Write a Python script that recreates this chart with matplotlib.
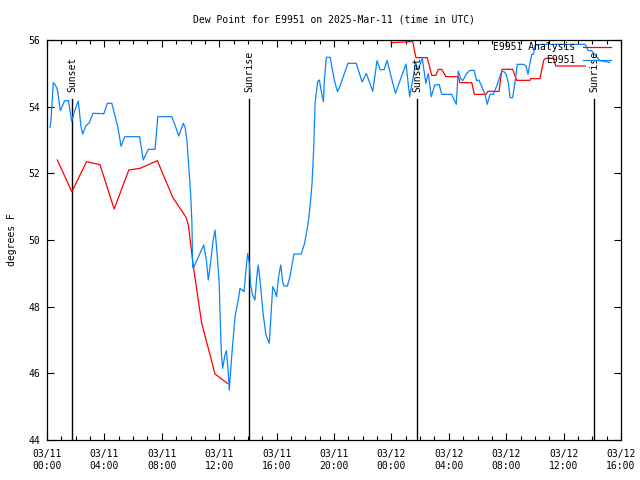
import matplotlib
matplotlib.use("Agg")
import matplotlib.pyplot as plt
from matplotlib.ticker import MultipleLocator

# ---- data (hours since 03/11 00:00 UTC) ----
obs_hours = [0.21, 0.28, 0.44, 0.58, 0.72, 0.93, 1.23, 1.5, 1.72, 1.9, 2.18, 2.37, 2.49, 2.7, 2.95,
             3.2, 3.96, 4.21, 4.52, 4.93, 5.16, 5.42, 6.45, 6.71, 7.06, 7.53, 7.72, 8.69, 8.92, 9.18,
             9.5, 9.62, 9.75, 9.85, 10.01, 10.1, 10.15, 10.2, 10.92, 11.1, 11.24, 11.4, 11.58, 11.71,
             11.85, 12.0, 12.08, 12.15, 12.24, 12.4, 12.5, 12.62, 12.7, 12.87, 13.1, 13.33, 13.45,
             13.73, 13.92, 13.99, 14.1, 14.19, 14.33, 14.49, 14.61, 14.72, 14.89, 15.07, 15.26, 15.49,
             15.73, 15.89, 16.0, 16.12, 16.29, 16.42, 16.52, 16.75, 16.93, 17.21, 17.72, 17.95, 18.19,
             18.33, 18.47, 18.58, 18.68, 18.86, 18.98, 19.14, 19.26, 19.33, 19.47, 19.73, 20.02, 20.24,
             20.42, 20.97, 21.55, 21.96, 22.25, 22.7, 23.0, 23.22, 23.49, 23.7, 23.97, 24.28, 25.02,
             25.27, 25.53, 25.68, 25.85, 26.15, 26.4, 26.57, 26.78, 27.02, 27.34, 27.5, 28.2, 28.36,
             28.52, 28.66, 28.83, 28.97, 29.25, 29.48, 29.76, 29.94, 30.1, 30.52, 30.68, 30.87, 31.1,
             31.34, 31.57, 31.69, 31.85, 31.99, 32.15, 32.27, 32.45, 32.61, 32.77, 33.2, 33.38, 33.52,
             33.66, 33.78, 33.9, 34.02, 34.5, 37.49, 37.72, 37.95, 38.35, 38.54, 39.2]
obs_values = [53.38, 53.6, 54.72, 54.65, 54.52, 53.88, 54.18, 54.18, 53.55, 53.85, 54.17, 53.4, 53.18,
              53.42, 53.52, 53.8, 53.79, 54.1, 54.1, 53.4, 52.81, 53.1, 53.1, 52.4, 52.72, 52.72, 53.7,
              53.7, 53.45, 53.12, 53.5, 53.38, 53.0, 52.4, 51.4, 50.5, 49.2, 49.15, 49.85, 49.42, 48.8,
              49.33, 50.0, 50.3, 49.6, 48.7, 47.5, 46.6, 46.15, 46.55, 46.68, 46.1, 45.5, 46.5, 47.7,
              48.2, 48.55, 48.45, 49.35, 49.6, 49.3, 48.65, 48.35, 48.2, 48.85, 49.25, 48.6, 47.75,
              47.15, 46.9, 48.6, 48.45, 48.3, 48.85, 49.25, 48.75, 48.62, 48.62, 48.9, 49.58, 49.58,
              49.9, 50.48, 51.0, 51.7, 52.7, 54.1, 54.75, 54.8, 54.4, 54.15, 54.8, 55.48, 55.48, 54.8,
              54.45, 54.62, 55.3, 55.3, 54.74, 55.0, 54.46, 55.38, 55.11, 55.11, 55.39, 54.92, 54.4,
              55.28, 54.3, 54.92, 55.33, 55.1, 55.45, 54.7, 55.0, 54.3, 54.65, 54.66, 54.37, 54.37,
              54.22, 54.07, 55.07, 54.84, 54.78, 55.0, 55.09, 55.09, 54.78, 54.8, 54.37, 54.07, 54.37,
              54.37, 54.62, 54.92, 55.05, 55.05, 54.97, 54.72, 54.27, 54.27, 54.72, 55.27, 55.27, 55.22,
              54.97, 55.32, 55.57, 55.57, 55.85, 55.87, 55.87, 55.68, 55.68, 55.47, 55.38, 55.33]

ana1_hours = [0.72, 1.73, 2.76, 3.69, 4.68, 5.70, 6.48, 7.69, 8.76, 9.69, 9.85, 10.2, 10.78, 11.71, 12.57]
ana1_values = [52.4, 51.45, 52.35, 52.26, 50.93, 52.1, 52.15, 52.38, 51.28, 50.68, 50.45, 49.2, 47.5,
               45.98, 45.7]
ana2_hours = [23.97, 24.97, 25.48, 25.71, 26.5, 26.81, 27.1, 27.27, 27.5, 27.8, 28.66, 28.78, 29.6,
              29.78, 30.6, 30.72, 31.5, 31.7, 32.45, 32.73, 33.66, 33.7, 34.35, 34.5, 34.62, 34.75,
              35.3, 35.45, 37.5]
ana2_values = [55.92, 55.94, 55.96, 55.47, 55.47, 54.94, 54.94, 55.12, 55.12, 54.9, 54.9, 54.72, 54.72,
               54.37, 54.37, 54.46, 54.46, 55.12, 55.12, 54.79, 54.79, 54.84, 54.84, 55.15, 55.4, 55.45,
               55.45, 55.22, 55.22]

sun_events = ["Sunset", "Sunrise", "Sunset", "Sunrise"]
sun_hours = [1.77, 14.08, 25.78, 38.12]

xtick_hours = [0, 4, 8, 12, 16, 20, 24, 28, 32, 36, 40]
xtick_labels = ["03/11\n00:00", "03/11\n04:00", "03/11\n08:00", "03/11\n12:00", "03/11\n16:00",
                "03/11\n20:00", "03/12\n00:00", "03/12\n04:00", "03/12\n08:00", "03/12\n12:00",
                "03/12\n16:00"]
yticks = [44, 46, 48, 50, 52, 54, 56]

title = "Dew Point for E9951 on 2025-Mar-11 (time in UTC)"
ylabel = "degrees F"
label_ana = "E9951 Analysis"
label_obs = "E9951"

# ---- figure ----
plt.rcParams['font.family'] = ['DejaVu Sans Mono']
FS = 7
fig = plt.figure(figsize=(6.4, 4.8), dpi=100)
ax = fig.add_axes([47/640, 40/480, 574/640, 400/480])

for name, h in zip(sun_events, sun_hours):
    ax.plot([h, h], [44, 54.23], color="black", lw=1.0, zorder=1)
    ax.text(h, 54.44, name, rotation=90, ha="center", va="bottom", fontsize=FS, zorder=4)

red = "#ff0000"
blue = "#0a84ff"
l1, = ax.plot(ana1_hours, ana1_values, color=red, lw=0.9, label=label_ana, zorder=2)
ax.plot(ana2_hours, ana2_values, color=red, lw=0.9, zorder=2)
l2, = ax.plot(obs_hours, obs_values, color=blue, lw=0.9, label=label_obs, zorder=3)

ax.set_xlim(0, 40)
ax.set_ylim(44, 56)
ax.set_xticks(xtick_hours)
ax.set_xticklabels(xtick_labels, fontsize=FS)
ax.xaxis.set_minor_locator(MultipleLocator(1))
ax.set_yticks(yticks)
ax.set_yticklabels([str(v) for v in yticks], fontsize=FS)
ax.tick_params(axis="both", which="both", direction="in", top=True, right=True, width=0.8)
ax.tick_params(axis="both", which="major", length=5)
ax.tick_params(axis="both", which="minor", length=3)
ax.tick_params(axis="x", which="major", pad=6.5)
ax.tick_params(axis="y", which="major", pad=5)
for s in ax.spines.values():
    s.set_linewidth(0.9)

ax.set_ylabel(ylabel, fontsize=FS)
ax.yaxis.set_label_coords(-0.053, 0.5)
ax.set_title(title, fontsize=FS, pad=12.5)

leg = ax.legend(handles=[l1, l2], loc="upper right", bbox_to_anchor=(0.9826, 0.995),
                frameon=False, markerfirst=False, fontsize=FS, handlelength=2.9,
                handletextpad=0.8, labelspacing=0.3, borderpad=0, borderaxespad=0)

fig.savefig("out.png", dpi=100)
